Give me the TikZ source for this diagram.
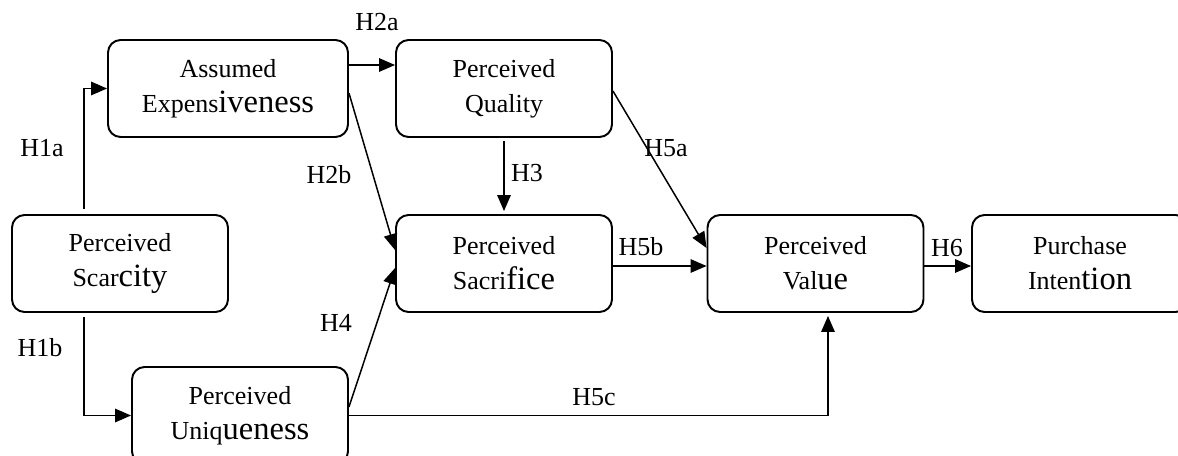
\documentclass[tikz,border=0pt]{standalone}
\usepackage{fontspec}
\setmainfont{Liberation Serif}
\usetikzlibrary{arrows.meta,positioning}
\newcommand{\bigpart}[1]{{\fontsize{18.5}{20}\selectfont #1}}
\tikzset{
  construct/.style={draw=black,line width=1.1pt,rounded corners=0.25cm,
                    minimum width=4.32cm,minimum height=1.94cm,
                    align=center,inner sep=2pt,
                    font=\fontsize{14.8}{19.9}\selectfont},
  hyparr/.style={-{Triangle[length=0.32cm,width=0.27cm]},line width=0.85pt},
  hyplabel/.style={font=\fontsize{14.8}{18}\selectfont,inner sep=0pt}
}

\begin{document}
\begin{tikzpicture}[x=0.02cm,y=-0.02cm]
  \useasboundingbox (0,0) rectangle (1178,456);
  \clip (0,0) rectangle (1178,456);

  % constructs
  \node[construct,minimum width=4.8cm] (expens) at (228,88.5) {Assumed\\Expens\bigpart{iveness}};
  \node[construct] (quality) at (504,88.5) {Perceived\\Quality};
  \node[construct] (scarcity) at (120,263.5) {Perceived\\Scar\bigpart{city}};
  \node[construct] (sacrifice) at (504,263.5) {Perceived\\Sacri\bigpart{fice}};
  \node[construct] (value) at (815.5,263.5) {Perceived\\Val\bigpart{ue}};
  \node[construct] (intention) at (1080,263.5) {Purchase\\Inten\bigpart{tion}};
  \node[construct] (unique) at (240,415.5) {Perceived\\Uniq\bigpart{ueness}};

  % hypotheses
  \draw[hyparr] ([xshift=-0.72cm,yshift=0.1cm]scarcity.north) |- (expens.west);
  \draw[hyparr] ([xshift=-0.72cm,yshift=-0.08cm]scarcity.south) |- (unique.west);
  \draw[hyparr] ([yshift=0.47cm]expens.east) -- ([yshift=0.47cm]quality.west);
  \draw[hyparr] ([yshift=-0.09cm]expens.east) -- ([yshift=0.27cm]sacrifice.west);
  \draw[hyparr] ([yshift=-0.06cm]quality.south) -- ([yshift=0.06cm]sacrifice.north);
  \draw[hyparr] ([yshift=0.17cm]unique.east) -- ([yshift=-0.09cm]sacrifice.west);
  \draw[hyparr] ([yshift=-0.05cm]quality.east) -- ([yshift=0.31cm]value.west);
  \draw[hyparr] ([yshift=-0.05cm]sacrifice.east) -- ([yshift=-0.05cm]value.west);
  \draw[hyparr] (unique.east) -| ([xshift=0.25cm,yshift=-0.06cm]value.south);
  \draw[hyparr] ([yshift=-0.05cm]value.east) -- ([yshift=-0.05cm]intention.west);

  \node[hyplabel] (h1a) at (42,148) {H1a};
  \node[hyplabel] (h1b) at (40,348) {H1b};
  \node[hyplabel] (h2a) at (377,22) {H2a};
  \node[hyplabel] (h2b) at (329,175) {H2b};
  \node[hyplabel] (h3) at (527,173) {H3};
  \node[hyplabel] (h4) at (336,323) {H4};
  \node[hyplabel] (h5a) at (666,148) {H5a};
  \node[hyplabel] (h5b) at (641,247) {H5b};
  \node[hyplabel] (h5c) at (594,397) {H5c};
  \node[hyplabel] (h6) at (947,248) {H6};
\end{tikzpicture}
\end{document}
